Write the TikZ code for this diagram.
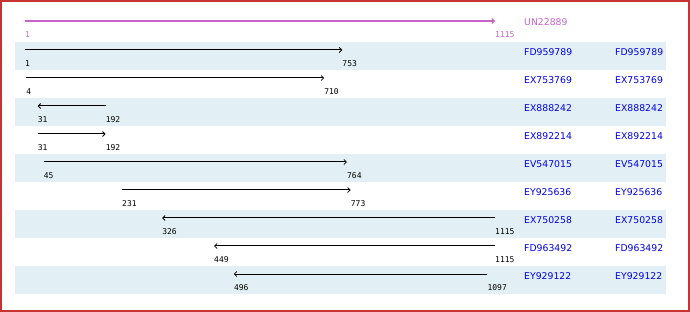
\documentclass[tikz,border=0pt]{standalone}
\usepackage{fontspec}
\setmainfont{DejaVu Sans}
\newfontfamily\numfont{DejaVu Sans Mono}
\usetikzlibrary{arrows.meta}
\definecolor{frame}{RGB}{200,50,50}
\definecolor{band}{RGB}{226,240,245}
\definecolor{mag}{RGB}{200,100,200}
\definecolor{idblue}{RGB}{0,0,230}
\tikzset{
  numlbl/.style={anchor=west,inner sep=0pt,font=\numfont\fontsize{8}{8}\selectfont},
  namelbl/.style={anchor=west,inner sep=0pt,font=\fontsize{9.3}{9.3}\selectfont,text=idblue},
  seg/.style={line width=1pt,black},
  tip/.style={-{Straight Barb[length=2.5pt,width=5pt,line width=0.8pt]}},
  tipl/.style={{Straight Barb[length=2.5pt,width=5pt,line width=0.8pt]}-},
}
\begin{document}
\begin{tikzpicture}[x=1pt,y=-1pt]
\useasboundingbox (0,0) rectangle (690,312);
\fill[white] (0,0) rectangle (690,312);
% bands
\foreach \i in {1,3,5,7,9}{
  \pgfmathsetmacro{\yt}{14+28*\i}
  \fill[band] (15,\yt) rectangle (666,\yt+28);
}
\draw[frame,line width=2pt] (1,1) rectangle (689,311);
% reference row
\coordinate (s0) at (25,21);
\coordinate (e0) at (495,21);
\draw[mag,line width=2pt,-{Straight Barb[length=2.5pt,width=5pt,line width=1pt]}] (s0) -- (e0);
\node[numlbl,text=mag] (ls0) at (25,34.5) {1};
\node[numlbl,text=mag] (le0) at (495,34.5) {1115};
\node[namelbl,text=mag] (n0) at (524,22) {UN22889};
% rows
\foreach \i/\a/\b/\d/\nm in {
  1/1/753/r/FD959789,
  2/4/710/r/EX753769,
  3/31/192/l/EX888242,
  4/31/192/r/EX892214,
  5/45/764/r/EV547015,
  6/231/773/r/EY925636,
  7/326/1115/l/EX750258,
  8/449/1115/l/FD963492,
  9/496/1097/l/EY929122}{
  \pgfmathsetmacro{\xa}{25+(\a-1)*0.421903}
  \pgfmathsetmacro{\xb}{25+(\b-1)*0.421903}
  \pgfmathsetmacro{\yy}{22+28*\i}
  \coordinate (s\i) at (\xa,\yy);
  \coordinate (e\i) at (\xb,\yy);
  \if r\d
    \draw[seg,tip] (s\i) -- (e\i);
  \else
    \draw[seg,tipl] (s\i) -- (e\i);
  \fi
  \node[numlbl] (ls\i) at (\xa,\yy+13.5) {\a};
  \node[numlbl] (le\i) at (\xb,\yy+13.5) {\b};
  \node[namelbl] (na\i) at (524,\yy+2) {\nm};
  \node[namelbl] (nb\i) at (615,\yy+2) {\nm};
}
\end{tikzpicture}
\end{document}
